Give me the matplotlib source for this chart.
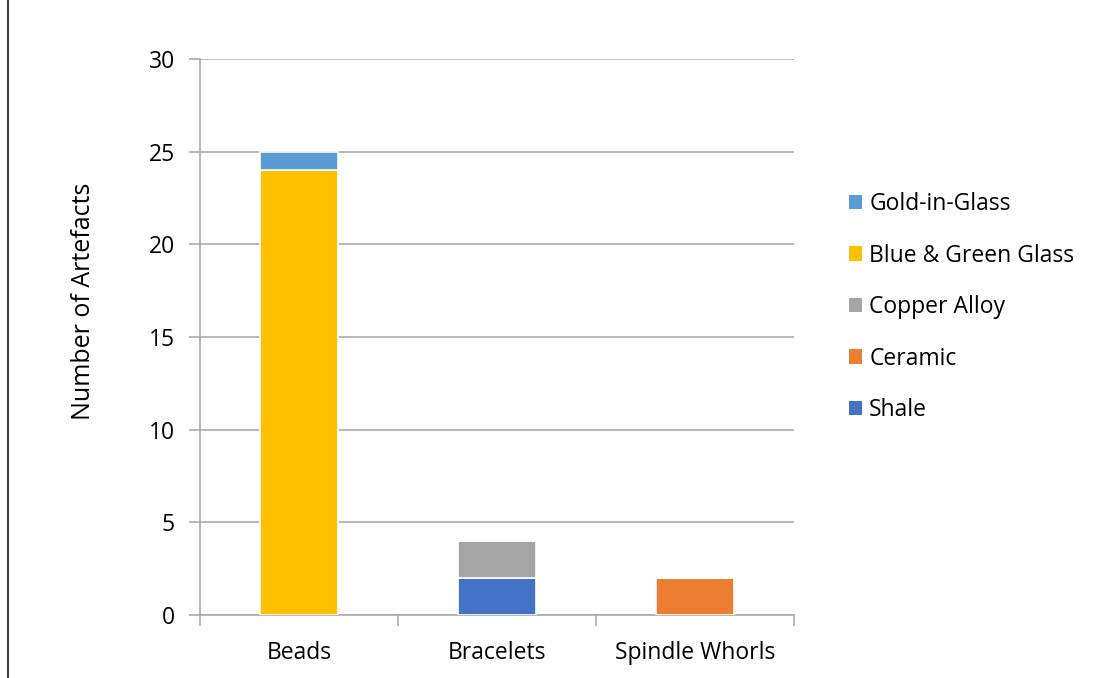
import numpy as np
import matplotlib.pyplot as plt
from matplotlib.patches import Patch
from matplotlib.lines import Line2D

# ==============================
# DATA
# ==============================
categories = ["Beads", "Bracelets", "Spindle Whorls"]
series_names = ["Shale", "Ceramic", "Copper Alloy", "Blue & Green Glass", "Gold-in-Glass"]
shale = [0, 2, 0]
ceramic = [0, 0, 2]
copper_alloy = [0, 2, 0]
blue_green_glass = [24, 0, 0]
gold_in_glass = [1, 0, 0]
series_values = [shale, ceramic, copper_alloy, blue_green_glass, gold_in_glass]
colors = ["#4472C4", "#ED7D31", "#A5A5A5", "#FFC000", "#5B9BD5"]

plt.rcParams['font.family'] = ['Open Sans', 'DejaVu Sans']

fig = plt.figure(figsize=(11.09, 6.78), dpi=100)
ax = fig.add_axes([0.1803, 0.0929, 0.5356, 0.8201])

x = np.arange(len(categories))
bottom = np.zeros(len(categories))
for name, vals, c in zip(series_names, series_values, colors):
    vals = np.array(vals, dtype=float)
    ax.bar(x, vals, width=0.395, bottom=bottom, color=c, edgecolor="white",
           linewidth=1.2, label=name, zorder=3)
    bottom += vals

ax.set_xlim(-0.5, 2.5)
ax.set_ylim(0, 30)
ax.set_yticks(range(0, 31, 5))
ax.set_xticks(x)
ax.set_xticklabels(categories)
ax.set_xticks([-0.5, 0.5, 1.5, 2.5], minor=True)

ax.grid(axis="y", color="#ABABAB", linewidth=1.2, zorder=0)
for s in ["top", "right"]:
    ax.spines[s].set_visible(False)
ax.spines["left"].set_color("#ABABAB")
ax.spines["bottom"].set_color("#ABABAB")
ax.spines["left"].set_linewidth(1.2)
ax.spines["bottom"].set_linewidth(1.2)
ax.tick_params(axis="y", length=8, width=1.2, color="#ABABAB", labelsize=16.5, pad=10)
ax.tick_params(axis="x", which="major", length=0, labelsize=16.5, pad=19)
ax.tick_params(axis="x", which="minor", length=8, width=1.2, color="#ABABAB")
ax.set_ylabel("Number of Artefacts", fontsize=18)
ax.yaxis.set_label_coords(-0.175, 0.565)

handles = [Patch(facecolor=c, edgecolor="none") for c in colors][::-1]
labels = series_names[::-1]
fig.legend(handles, labels, loc="upper left", bbox_to_anchor=(0.757, 0.73),
           frameon=False, fontsize=16.5, handlelength=0.6, handleheight=0.6,
           handletextpad=0.3, labelspacing=1.2, borderaxespad=0)

# left border line of the chart area
fig.add_artist(Line2D([0.0075, 0.0075], [0, 1], transform=fig.transFigure,
                      color="#404040", linewidth=1.5))

plt.savefig("out.png", dpi=100)
